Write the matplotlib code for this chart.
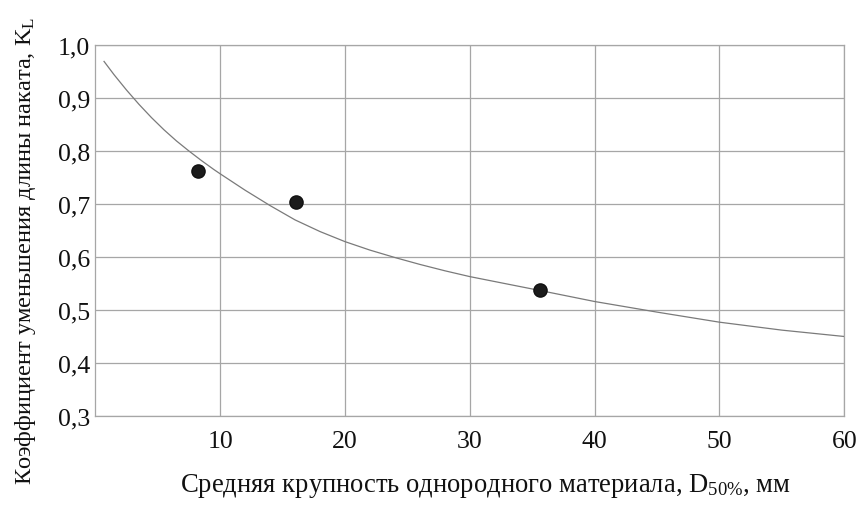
import matplotlib
matplotlib.use("Agg")
import matplotlib.pyplot as plt

# Trend curve
curve_x = [0.7, 1.5, 2.5, 3.5, 4.5, 5.5, 6.5, 7.5, 8.5, 9.5, 10, 12, 14, 16, 18, 20,
           22, 24, 26, 28, 30, 33, 36, 40, 45, 50, 55, 60]
curve_y = [0.969, 0.944, 0.915, 0.888, 0.863, 0.840, 0.819, 0.800, 0.782, 0.765, 0.757,
           0.726, 0.697, 0.670, 0.648, 0.629, 0.613, 0.599, 0.586, 0.574, 0.563, 0.549,
           0.535, 0.516, 0.496, 0.477, 0.462, 0.450]

# Measured points
pts_x = [8.2, 16.1, 35.6]
pts_y = [0.762, 0.704, 0.537]

x_ticks = [10, 20, 30, 40, 50, 60]
x_tick_labels = ["10", "20", "30", "40", "50", "60"]
y_ticks = [0.3, 0.4, 0.5, 0.6, 0.7, 0.8, 0.9, 1.0]
y_tick_labels = ["0,3", "0,4", "0,5", "0,6", "0,7", "0,8", "0,9", "1,0"]

x_label = "Средняя крупность однородного материала, $\\mathrm{D_{50\\%}}$, мм"
y_label = "Коэффициент уменьшения длины наката, $\\mathrm{K_L}$"

plt.rcParams['font.family'] = ['Liberation Serif', 'DejaVu Serif']
plt.rcParams['mathtext.fontset'] = 'custom'
plt.rcParams['mathtext.rm'] = 'Liberation Serif'
plt.rcParams['mathtext.it'] = 'Liberation Serif:italic'

fig = plt.figure(figsize=(8.68, 5.06), dpi=100)
ax = fig.add_axes([0.1098, 0.1759, 0.8629, 0.7332])

ax.plot(curve_x, curve_y, color='#7a7a7a', lw=0.9, zorder=3)
ax.plot(pts_x, pts_y, 'o', color='#1c1c1c', markersize=9.5, markeredgecolor='#111111', zorder=4)

ax.set_xlim(0, 60)
ax.set_ylim(0.3, 1.0)
ax.set_xticks(x_ticks)
ax.set_xticklabels(x_tick_labels)
ax.set_yticks(y_ticks)
ax.set_yticklabels(y_tick_labels)
ax.tick_params(axis='both', length=0, labelsize=18.5, colors='#111111')
ax.tick_params(axis='x', pad=10)
ax.tick_params(axis='y', pad=4)
ax.grid(True, color='#a6a6a6', lw=0.9)
for s in ax.spines.values():
    s.set_color('#a6a6a6')
    s.set_linewidth(0.9)

fig.text(485.5 / 868, 1 - 492 / 506, x_label, fontsize=19.2, color='#111111',
         ha='center', va='baseline')
fig.text(26 / 868, 1 - 251 / 506, y_label, fontsize=17.6, color='#111111',
         ha='center', va='center', rotation=90)

fig.savefig("out.png", dpi=100)
